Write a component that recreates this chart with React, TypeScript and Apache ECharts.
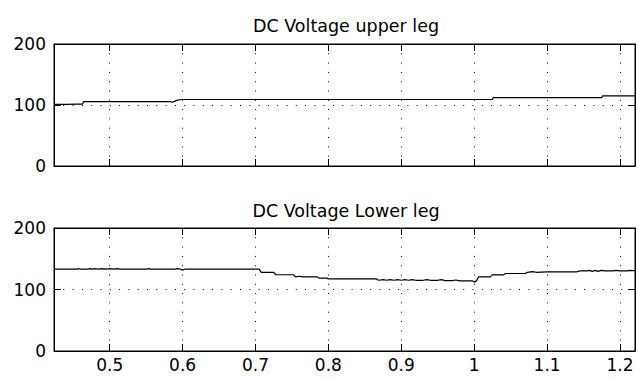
import React, { useEffect, useRef } from "react";
import * as echarts from "echarts";

const titles = ["DC Voltage upper leg", "DC Voltage Lower leg"];
const xMin = 0.4236;
const xMax = 1.2206;
const yTicks = [0, 100, 200];

const upperLeg: [number, number][] = [
  [0.4236, 101], [0.44, 101], [0.455, 101.5], [0.463, 101.5], [0.464, 105.5],
  [0.52, 105.5], [0.583, 105.5], [0.586, 104.5], [0.589, 106], [0.592, 107.5],
  [0.598, 109], [0.7, 109], [0.8, 109], [0.9, 109], [1.025, 109],
  [1.026, 112], [1.1, 112], [1.175, 112], [1.176, 115], [1.2206, 115],
];

const lowerLeg: [number, number][] = [
  [0.4236, 133], [0.455, 133], [0.457, 134], [0.46, 133], [0.47, 133],
  [0.472, 134], [0.476, 133], [0.48, 134], [0.484, 133], [0.49, 134],
  [0.494, 133], [0.5, 134], [0.505, 133], [0.51, 134], [0.514, 133],
  [0.55, 133], [0.553, 134], [0.557, 133], [0.59, 133], [0.593, 134],
  [0.597, 133], [0.6, 131.5], [0.603, 133], [0.705, 133], [0.708, 128],
  [0.725, 128], [0.728, 124], [0.752, 124], [0.755, 120.5], [0.76, 121.5],
  [0.765, 120.5], [0.785, 120.5], [0.787, 118.5], [0.798, 118.5], [0.8, 117.2],
  [0.866, 117.2], [0.869, 115], [0.875, 116], [0.88, 115], [0.885, 116],
  [0.89, 115], [0.895, 116], [0.9, 115], [0.905, 116], [0.91, 115],
  [0.915, 116], [0.92, 115], [0.93, 115], [0.935, 116], [0.94, 115],
  [0.95, 115], [0.955, 116], [0.96, 114.5], [0.97, 114.5], [0.975, 115.5],
  [0.98, 114], [0.998, 114], [1.0, 112], [1.003, 114], [1.006, 120.5],
  [1.022, 120.5], [1.025, 123.7], [1.04, 123.7], [1.043, 126], [1.07, 126],
  [1.073, 128], [1.08, 129], [1.085, 128], [1.1, 128.5], [1.12, 128.5],
  [1.14, 128.5], [1.145, 130.2], [1.155, 130.2], [1.158, 131], [1.162, 129.5],
  [1.166, 131], [1.17, 129.5], [1.174, 131], [1.18, 130.2], [1.19, 130.2],
  [1.195, 131], [1.2, 130.2], [1.21, 130.2], [1.213, 131], [1.2206, 130.5],
];

const FONT = "DejaVu Sans";

export default function App() {
  const ref = useRef<HTMLDivElement>(null);
  useEffect(() => {
    if (!ref.current) return;
    const chart = echarts.init(ref.current, undefined, { renderer: "svg" });
    const dotted = { color: "#000", width: 1, type: [1, 8.3] as any };
    const grids = [
      { left: 54, right: 3, top: 44, height: 122, show: true, borderColor: "#000", borderWidth: 1, backgroundColor: "transparent" },
      { left: 54, right: 3, top: 228, height: 123, show: true, borderColor: "#000", borderWidth: 1, backgroundColor: "transparent" },
    ];
    const xAxes: any[] = [];
    const yAxes: any[] = [];
    grids.forEach((_, gi) => {
      ["bottom", "top"].forEach((pos) => {
        xAxes.push({
          type: "value",
          gridIndex: gi,
          position: pos,
          min: xMin,
          max: xMax,
          splitNumber: 8,
          axisLine: { show: true, onZero: false, lineStyle: { color: "#000", width: 1 } },
          axisTick: { show: true, inside: true, length: 7, lineStyle: { color: "#000", width: 1 } },
          axisLabel: {
            show: gi === 1 && pos === "bottom",
            showMinLabel: false,
            showMaxLabel: false,
            color: "#000",
            fontFamily: FONT,
            fontSize: 17,
            margin: 5,
          },
          splitLine: { show: pos === "bottom", lineStyle: dotted },
        });
      });
      ["left", "right"].forEach((pos) => {
        yAxes.push({
          type: "value",
          gridIndex: gi,
          position: pos,
          min: yTicks[0],
          max: yTicks[yTicks.length - 1],
          interval: 100,
          axisLine: { show: true, onZero: false, lineStyle: { color: "#000", width: 1 } },
          axisTick: { show: true, inside: true, length: 7, lineStyle: { color: "#000", width: 1 } },
          axisLabel: {
            show: pos === "left",
            color: "#000",
            fontFamily: FONT,
            fontSize: 17,
            margin: 8,
          },
          splitLine: { show: pos === "left", lineStyle: dotted },
        });
      });
    });
    chart.setOption({
      animation: false,
      backgroundColor: "#fff",
      textStyle: { fontFamily: FONT },
      title: [
        {
          text: titles[0],
          left: 341,
          top: 12,
          textAlign: "center",
          textStyle: { fontFamily: FONT, fontSize: 17.5, fontWeight: "normal", color: "#000" },
        },
        {
          text: titles[1],
          left: 341,
          top: 197,
          textAlign: "center",
          textStyle: { fontFamily: FONT, fontSize: 17.5, fontWeight: "normal", color: "#000" },
        },
      ],
      grid: grids,
      xAxis: xAxes,
      yAxis: yAxes,
      series: [
        {
          type: "line",
          xAxisIndex: 0,
          yAxisIndex: 0,
          data: upperLeg,
          showSymbol: false,
          lineStyle: { color: "#000", width: 1.2 },
        },
        {
          type: "line",
          xAxisIndex: 2,
          yAxisIndex: 2,
          data: lowerLeg,
          showSymbol: false,
          lineStyle: { color: "#000", width: 1.2 },
        },
      ],
    });
    return () => chart.dispose();
  }, []);
  return <div ref={ref} style={{ width: 638, height: 380, position: "absolute", left: 0, top: 0 }} />;
}
